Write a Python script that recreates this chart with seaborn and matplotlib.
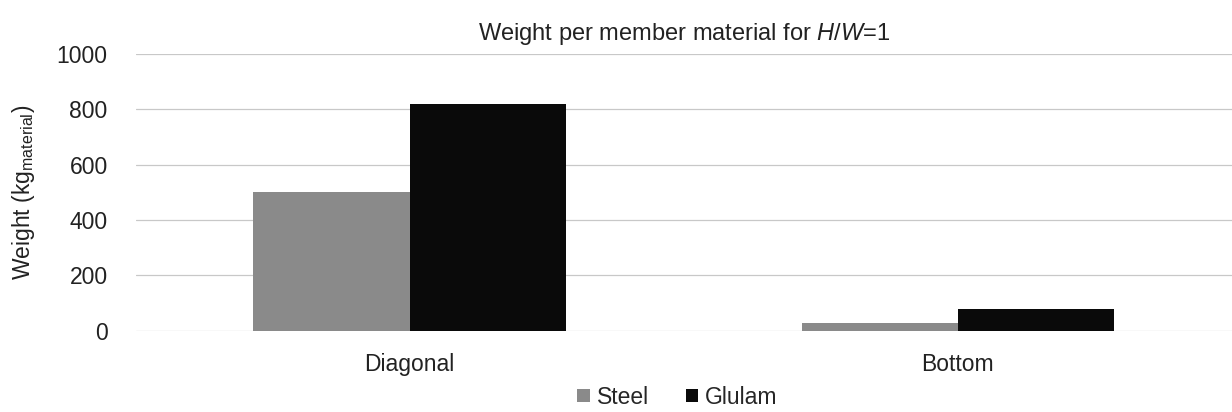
import pandas as pd
import matplotlib
matplotlib.use("Agg")
import matplotlib.pyplot as plt
import seaborn as sns

members = ["Diagonal", "Bottom"]
steel = [500, 30]
glulam = [820, 80]

df = pd.DataFrame({
    "Member": members * 2,
    "Material": ["Steel"] * 2 + ["Glulam"] * 2,
    "Weight": steel + glulam,
})

sns.set_theme(style="white")
plt.rcParams["font.family"] = ["Liberation Sans", "DejaVu Sans"]
plt.rcParams["mathtext.fontset"] = "custom"
plt.rcParams["mathtext.rm"] = "Liberation Sans"
plt.rcParams["mathtext.it"] = "Liberation Sans:italic"

fig = plt.figure(figsize=(12.32, 4.12), dpi=100)
ax = fig.add_axes([0.11, 0.197, 0.89, 0.672])

sns.barplot(data=df, x="Member", y="Weight", hue="Material",
            palette={"Steel": "#8a8a8a", "Glulam": "#0a0a0a"},
            width=0.57, saturation=1, linewidth=0, ax=ax)

ax.set_xlim(-0.5, 1.5)
ax.set_ylim(0, 1000)
ax.set_yticks(range(0, 1001, 200))
ax.yaxis.grid(True, color="#c8c8c8", linewidth=0.9)
ax.set_axisbelow(True)
for s in ax.spines.values():
    s.set_visible(False)
ax.tick_params(axis="both", labelsize=16.5, colors="#222222", length=0)
ax.tick_params(axis="y", pad=20)
ax.tick_params(axis="x", pad=16)
ax.set_xlabel("")
ax.set_ylabel("Weight (kg$_{\\mathrm{material}}$)", fontsize=16.5, color="#222222", labelpad=14)
ax.set_title("Weight per member material for $\\mathit{H/W}$=1", fontsize=17, color="#222222", pad=10)

ax.legend(loc="center", bbox_to_anchor=(0.55, 0.036), bbox_transform=fig.transFigure,
          ncol=2, frameon=False, fontsize=16.5, handlelength=0.55, handleheight=0.55,
          handletextpad=0.3, columnspacing=1.6, borderpad=0)

fig.savefig("out.png", dpi=100)
